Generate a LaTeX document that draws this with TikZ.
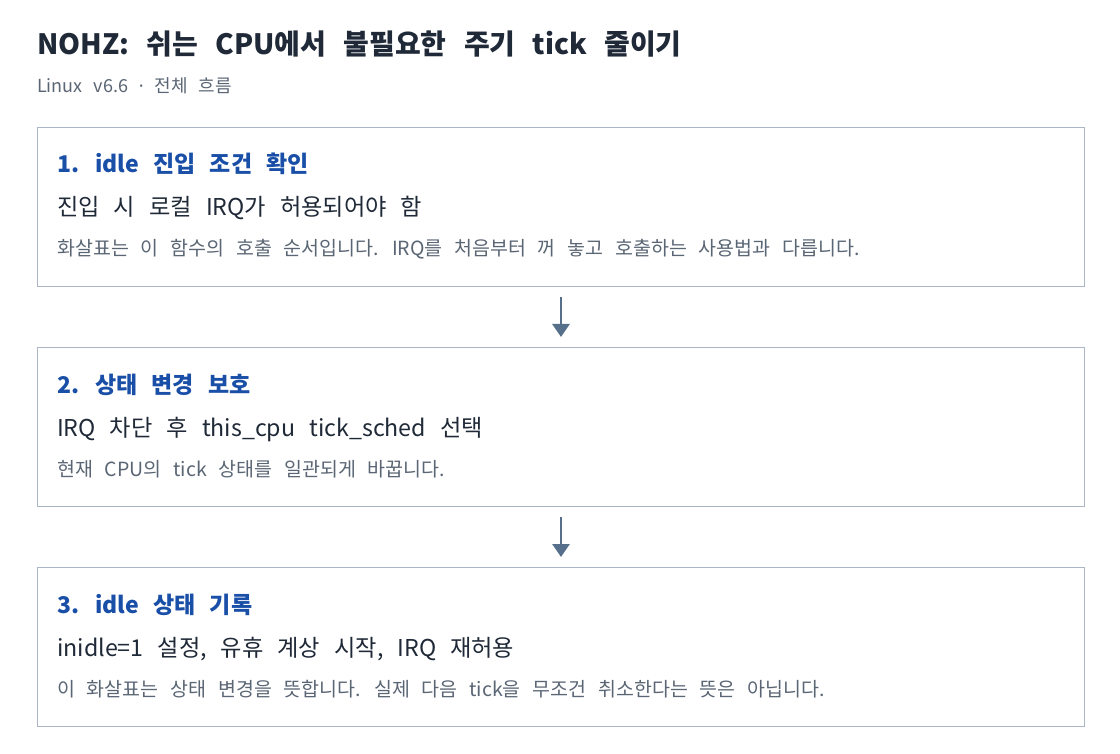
\documentclass[tikz,border=0pt]{standalone}
\usepackage{fontspec}
\setmainfont{Noto Sans CJK KR}
\newfontfamily\titlefont[WordSpace=2.5]{Noto Sans CJK KR}
\newfontfamily\subfont[WordSpace=1.6]{Noto Sans CJK KR}
\newfontfamily\dotfont{Noto Sans}
\newfontfamily\headfont[WordSpace=1.6]{Noto Sans CJK KR}
\newfontfamily\whatfont[WordSpace=2.2]{Noto Sans CJK KR}
\newfontfamily\notefont[WordSpace=2.7]{Noto Sans CJK KR}
\usetikzlibrary{arrows.meta}
\definecolor{inkdark}{HTML}{1F2937}
\definecolor{inkblue}{HTML}{1A4FA8}
\definecolor{inkgrey}{HTML}{5B6675}
\definecolor{framegrey}{HTML}{AAB6C5}
\definecolor{flowblue}{HTML}{56708C}

\begin{document}
\begin{tikzpicture}[x=1pt, y=-1pt,
    stepbox/.style = {draw=framegrey, line width=1pt, minimum width=1047pt,
      minimum height=159pt, anchor=north west, inner sep=0pt},
    title/.style = {anchor=base west, inner sep=0pt, text=inkdark,
      font=\titlefont\fontsize{28}{32}\selectfont\bfseries},
    subtitle/.style = {anchor=base west, inner sep=0pt, text=inkgrey,
      font=\subfont\fontsize{18}{22}\selectfont},
    head/.style = {anchor=base west, inner sep=0pt, text=inkblue,
      font=\headfont\fontsize{23}{27}\selectfont\bfseries},
    what/.style = {anchor=base west, inner sep=0pt, text=inkdark,
      font=\whatfont\fontsize{23.2}{27}\selectfont},
    note/.style = {anchor=base west, inner sep=0pt, text=inkgrey,
      font=\notefont\fontsize{19.5}{23}\selectfont},
    flow/.style = {-{Triangle[length=13pt, width=17pt]}, draw=flowblue,
      line width=2.7pt, shorten <=10pt, shorten >=10pt}]
    \useasboundingbox (0,0) rectangle (1120,754);
    \fill[white] (0,0) rectangle (1120,754);

    \node[title] (ttl) at (37,55) {NOHZ: 쉬는 CPU에서 불필요한 주기 tick 줄이기};
    \node[subtitle] (sub) at (37,93) {Linux v6.6 {\dotfont ·} 전체 흐름};

    \foreach \i in {1,2,3}
      \node[stepbox] (box\i) at (37,127+220*\i-220) {};

    \node[head] (h1) at (57,173) {1. idle 진입 조건 확인};
    \node[what] (w1) at (57,216) {진입 시 로컬 IRQ가 허용되어야 함};
    \node[note] (n1) at (57,256) {화살표는 이 함수의 호출 순서입니다. IRQ를 처음부터 꺼 놓고 호출하는 사용법과 다릅니다.};

    \node[head] (h2) at (57,393) {2. 상태 변경 보호};
    \node[what] (w2) at (57,436) {IRQ 차단 후 this\_cpu tick\_sched 선택};
    \node[note] (n2) at (57,476) {현재 CPU의 tick 상태를 일관되게 바꿉니다.};

    \node[head] (h3) at (57,613) {3. idle 상태 기록};
    \node[what] (w3) at (57,656) {inidle=1 설정, 유휴 계상 시작, IRQ 재허용};
    \node[note] (n3) at (57,696) {이 화살표는 상태 변경을 뜻합니다. 실제 다음 tick을 무조건 취소한다는 뜻은 아닙니다.};

    \draw[flow] (box1.south) -- (box2.north);
    \draw[flow] (box2.south) -- (box3.north);
\end{tikzpicture}
\end{document}
